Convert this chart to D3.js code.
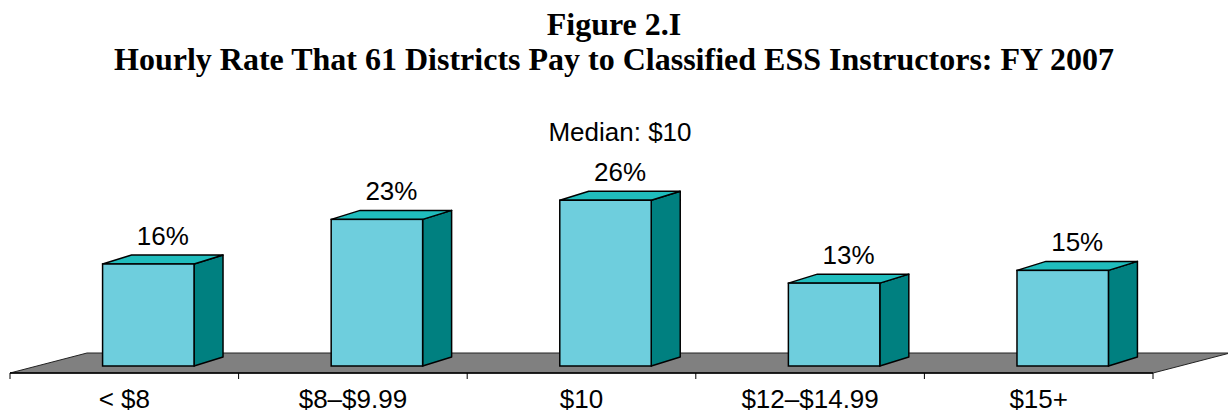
<!DOCTYPE html>
<html>
<head>
<meta charset="utf-8">
<script src="https://cdn.jsdelivr.net/npm/d3@7"></script>
<style>
  body { margin: 0; background: #fff; }
  svg { display: block; }
  .title { font-family: "Liberation Serif", "Times New Roman", serif; font-weight: bold; font-size: 32px; }
  .lbl { font-family: "Liberation Sans", Arial, sans-serif; font-size: 26px; fill: #000; }
</style>
</head>
<body>
<div id="chart"></div>
<script>
// data
const categories = ['< $8', '$8\u2013$9.99', '$10', '$12\u2013$14.99', '$15+'];
const shares = [0.16, 0.23, 0.26, 0.13, 0.15];
const pctLabels = ['16%', '23%', '26%', '13%', '15%'];
const medianNote = 'Median: $10';
const medianIndex = 2;
const titleLines = ['Figure 2.I', 'Hourly Rate That 61 Districts Pay to Classified ESS Instructors: FY 2007'];

const width = 1228;
const height = 413;

const svg = d3.select('#chart').append('svg')
    .attr('width', width)
    .attr('height', height);

// title
svg.selectAll('text.title')
    .data(titleLines)
    .join('text')
    .attr('class', 'title')
    .attr('x', 614)
    .attr('y', (d, i) => 35 + i * 35)
    .attr('text-anchor', 'middle')
    .text(d => d);

// floor / axis geometry
const axisY = 373;
const floorDx = 77, floorDy = 20;   // depth of the floor
const barDx = 29, barDy = 9;        // depth of each bar
const barBase = 366;                // front bottom of bars

const xScale = d3.scaleBand()
    .domain(categories)
    .range([10, 1153])
    .padding(0);

const yScale = d3.scaleLinear()
    .domain([0, 0.30])
    .range([barBase, barBase - 191.25]);

const bw = xScale.bandwidth();
const barW = bw * 0.4;
const barOffset = bw * 0.405;

// floor
const [x0, x1] = xScale.range();
svg.append('polygon')
    .attr('points', [
      [x0, axisY], [x0 + floorDx, axisY - floorDy],
      [x1 + floorDx, axisY - floorDy], [x1, axisY]
    ].map(p => p.join(',')).join(' '))
    .attr('fill', '#808080')
    .attr('stroke', '#222')
    .attr('stroke-width', 1);

// axis line + ticks
svg.append('line')
    .attr('x1', x0).attr('x2', x1)
    .attr('y1', axisY).attr('y2', axisY)
    .attr('stroke', '#000').attr('stroke-width', 1.5);

const tickXs = categories.map(c => xScale(c)).concat([x1]);
svg.selectAll('line.tick')
    .data(tickXs)
    .join('line')
    .attr('class', 'tick')
    .attr('x1', d => d).attr('x2', d => d)
    .attr('y1', axisY).attr('y2', axisY + 6)
    .attr('stroke', '#000').attr('stroke-width', 1);

// category labels
svg.selectAll('text.cat')
    .data(categories)
    .join('text')
    .attr('class', 'lbl cat')
    .attr('x', d => xScale(d) + bw / 2)
    .attr('y', 408)
    .attr('text-anchor', 'middle')
    .text(d => d);

// bars
const bars = svg.append('g').attr('class', 'bars');
const barData = categories.map((c, i) => ({ cat: c, v: shares[i], label: pctLabels[i] }));

bars.selectAll('g.bar')
    .data(barData)
    .join('g')
    .attr('class', 'bar')
    .each(function (d) {
      const g = d3.select(this);
      const x = xScale(d.cat) + barOffset;
      const yT = yScale(d.v);
      const yB = yScale(0);
      const pts = arr => arr.map(p => p.join(',')).join(' ');
      // side
      g.append('polygon')
        .attr('points', pts([[x + barW, yT], [x + barW + barDx, yT - barDy], [x + barW + barDx, yB - barDy], [x + barW, yB]]))
        .attr('fill', '#008080').attr('stroke', '#000').attr('stroke-width', 1.5).attr('stroke-linejoin', 'round');
      // top
      g.append('polygon')
        .attr('points', pts([[x, yT], [x + barDx, yT - barDy], [x + barW + barDx, yT - barDy], [x + barW, yT]]))
        .attr('fill', '#20BDBD').attr('stroke', '#000').attr('stroke-width', 1.5).attr('stroke-linejoin', 'round');
      // front
      g.append('rect')
        .attr('x', x).attr('y', yT)
        .attr('width', barW).attr('height', yB - yT)
        .attr('fill', '#6ECEDD').attr('stroke', '#000').attr('stroke-width', 1.5);
      // value label
      g.append('text')
        .attr('class', 'lbl')
        .attr('x', x + (barW + barDx) / 2)
        .attr('y', yT - barDy - 10)
        .attr('text-anchor', 'middle')
        .text(d.label);
    });

// median note above the median bar
svg.append('text')
    .attr('class', 'lbl')
    .attr('x', xScale(categories[medianIndex]) + barOffset + (barW + barDx) / 2)
    .attr('y', yScale(shares[medianIndex]) - barDy - 50)
    .attr('text-anchor', 'middle')
    .text(medianNote);
</script>
</body>
</html>
